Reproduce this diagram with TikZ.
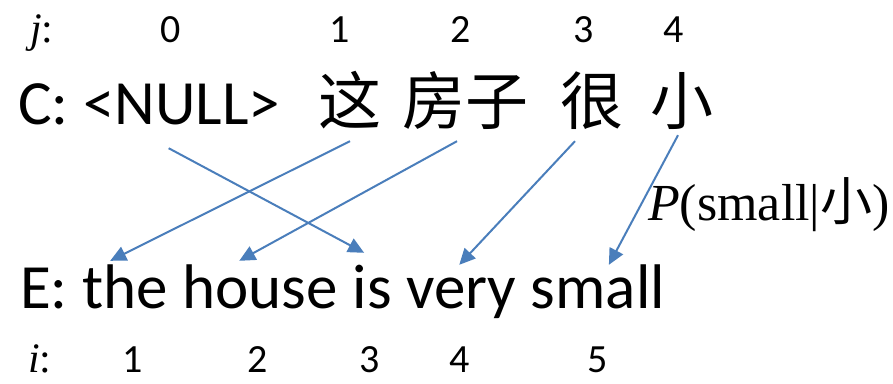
\documentclass[tikz,border=0pt]{standalone}
\usepackage{fontspec}
\setmainfont{Carlito}
\newfontfamily\cjk{Noto Sans CJK SC}
\newfontfamily\serifmath{Liberation Serif}
\usetikzlibrary{arrows.meta,positioning}
\definecolor{linkblue}{HTML}{4A7EBB}

\begin{document}
\begin{tikzpicture}[x=1pt, y=-1pt]
  \tikzset{
    cword/.style={inner sep=0pt, text depth=17pt, anchor=base west, font=\fontsize{63}{63}\selectfont},
    zh/.style={inner sep=0pt, text depth=17pt, anchor=base, font=\cjk\fontsize{63}{63}\selectfont},
    en/.style={inner sep=0pt, text height=47pt, text depth=0pt, anchor=base west, font=\fontsize{63}{63}\selectfont},
    idx/.style={inner sep=0pt, anchor=base, font=\fontsize{40}{40}\selectfont},
    var/.style={inner sep=0pt, anchor=base west, font=\serifmath\fontsize{42}{42}\selectfont},
    link/.style={draw=linkblue, line width=2pt, -{Triangle[length=16pt,width=15pt]}}
  }
  \useasboundingbox (0,0) rectangle (893,383);

  % Index row j
  \node[var] (jlab) at (30,42) {\textit{j}:};
  \foreach \x/\k in {171/0, 340/1, 461/2, 584/3, 674/4}
    \node[idx] (j\k) at (\x,42) {\k};

  % Chinese sentence C
  \node[cword] (c) at (18,124) {C:};
  \node[cword, base right=14.2pt of c] (null) {<NULL>};
  \node[zh] (zhe) at (350,124) {这};
  \node[zh] (fangzi) at (465,124) {房子};
  \node[zh] (hen) at (592,124) {很};
  \node[zh] (xiao) at (682,124) {小};

  % English sentence E
  \node[en] (e) at (20,308) {E:};
  \node[en, base right=14.2pt of e] (the) {the};
  \node[en, base right=14.2pt of the] (house) {house};
  \node[en, base right=14.2pt of house] (is) {is};
  \node[en, base right=14.2pt of is] (very) {very};
  \node[en, base right=14.2pt of very] (small) {small};

  % Index row i
  \node[var] (ilab) at (28,372) {\textit{i}:};
  \foreach \x/\k in {133/1, 258/2, 370/3, 460/4, 598/5}
    \node[idx] (i\k) at (\x,372) {\k};

  % Alignment links
  \draw[link] ([xshift=-13pt,yshift=-7pt]null.south) -- ([xshift=-8pt,yshift=8pt]is.north);
  \draw[link] (zhe.south) -- ([xshift=-15pt]the.north);
  \draw[link] ([xshift=-8pt]fangzi.south) -- ([xshift=-21pt]house.north);
  \draw[link] ([xshift=-17pt]hen.south) -- ([xshift=-2pt,yshift=-4pt]very.north);
  \draw[link] ([xshift=-4pt,yshift=6pt]xiao.south) -- ([xshift=11pt,yshift=-4pt]small.north);

  % Translation probability label
  \node[anchor=base west, inner sep=0pt, font=\serifmath\fontsize{52}{52}\selectfont] (prob) at (648,220) {\textit{P}(small|{\cjk 小})};
\end{tikzpicture}
\end{document}
